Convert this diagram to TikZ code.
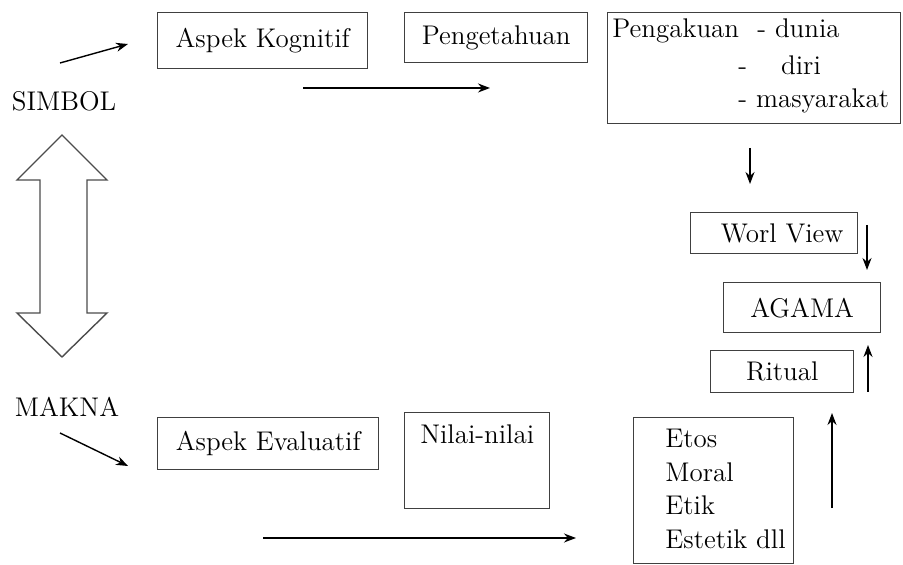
\documentclass[tikz,border=0pt]{standalone}
\usepackage{tikz}
\usetikzlibrary{arrows.meta}

\begin{document}
\begin{tikzpicture}[
    x=0.5pt, y=-0.5pt,
    >={Stealth[length=6pt, width=4.5pt]},
    box/.style={rectangle, draw=black!75, line width=0.7pt, anchor=north west, inner sep=0pt, font=\fontsize{13.5}{17}\selectfont},
    lbl/.style={font=\fontsize{13.5}{17}\selectfont},
    txt/.style={lbl, inner sep=0pt, anchor=base west},
    arr/.style={->, line width=0.7pt}
]
\useasboundingbox (0,0) rectangle (903,565);

% left side
\node[lbl] (simbol) at (64,101) {SIMBOL};
\node[lbl] (makna) at (67,407) {MAKNA};
\draw[draw=black!70, line width=0.7pt] (62,135) -- (107,180) -- (87,180) -- (87,313) -- (107,313)
    -- (62,357) -- (17,313) -- (40,313) -- (40,180) -- (17,180) -- cycle;

% top row
\node[box, minimum width=105pt, minimum height=28pt] (kognitif) at (157,12) {Aspek Kognitif};
\node[box, minimum width=91.5pt, minimum height=25pt] (pengetahuan) at (404,12) {Pengetahuan};
\node[box, minimum width=146.5pt, minimum height=55.5pt] (pengakuan) at (607,12) {};
\node[txt] (pengakuantxt) at (612,38) {Pengakuan};
\node[txt] (dunia) at (757,38) {- dunia};
\node[txt] (diri) at (738,75) {-\hspace{17pt}diri};
\node[txt] (masyarakat) at (738,108) {- masyarakat};

% right column
\node[box, minimum width=83.5pt, minimum height=20.5pt] (worlview) at (690,212) {\hspace{8pt}Worl View};
\node[box, minimum width=78.5pt, minimum height=25pt] (agama) at (723,282) {AGAMA};
\node[box, minimum width=71.5pt, minimum height=21pt] (ritual) at (710,350) {Ritual};

% bottom row
\node[box, minimum width=110.5pt, minimum height=26pt] (evaluatif) at (157,417) {Aspek Evaluatif};
\node[box, minimum width=72.5pt, text height=15.5pt, text depth=32.5pt] (nilai) at (404,412) {Nilai-nilai};
\node[box, minimum width=80pt, minimum height=73pt] (etosbox) at (633,417) {};
\foreach \val [count=\i from 0] in {Etos,Moral,Etik,Estetik dll} {
    \node[txt] (etos\i) at (665, 448+\i*33.5) {\val};
}

% arrows
\coordinate (simbolA) at (60,63);   \coordinate (simbolB) at (128,44);
\coordinate (topA) at (303,88);     \coordinate (topB) at (490,88);
\coordinate (downA) at (750,148);   \coordinate (downB) at (750,184);
\coordinate (viewA) at (867,225);   \coordinate (viewB) at (867,270);
\coordinate (ritA) at (868,392);    \coordinate (ritB) at (868,345);
\coordinate (maknaA) at (60,433);   \coordinate (maknaB) at (128,466);
\coordinate (botA) at (263,538);    \coordinate (botB) at (576,538);
\coordinate (upA) at (832,508);     \coordinate (upB) at (832,413);
\draw[arr] (simbolA) -- (simbolB);
\draw[arr] (topA) -- (topB);
\draw[arr] (downA) -- (downB);
\draw[arr] (viewA) -- (viewB);
\draw[arr] (ritA) -- (ritB);
\draw[arr] (maknaA) -- (maknaB);
\draw[arr] (botA) -- (botB);
\draw[arr] (upA) -- (upB);

\end{tikzpicture}
\end{document}
